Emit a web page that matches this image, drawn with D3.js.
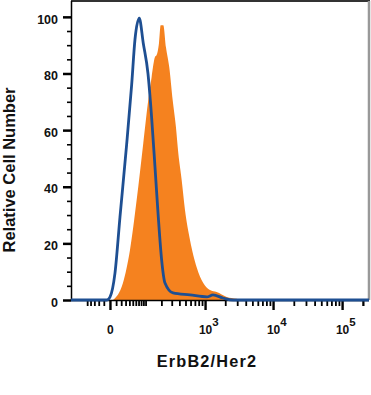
<!DOCTYPE html>
<html><head><meta charset="utf-8">
<script src="https://cdn.jsdelivr.net/npm/d3@7"></script>
<style>body{margin:0;background:#fff}svg{display:block}text{font-family:"Liberation Sans",Arial,sans-serif;font-weight:bold;fill:#111}</style>
</head><body><svg id="c" width="371" height="395"></svg>
<script>
// Isotype control (blue outline)
const isoX = [-117, -4.6, 0, 8, 17.4, 32.7, 46.6, 57.2, 72.7, 89.4, 112, 132, 153, 176, 202, 231, 315, 588, 1068, 1315, 1852, 2600, 245000];
const isoY = [0, 0, 1.0, 9.5, 29.3, 55, 76, 92, 99.5, 90.7, 80, 64.6, 47, 29.3, 14.1, 6, 2.5, 1.8, 1.1, 1.8, 0.7, 0, 0];
// ErbB2/Her2 stained (orange filled)
const stainX = [4.6, 23.8, 41.6, 63, 89.4, 113.5, 132, 153, 164, 181, 194, 216, 240, 273, 311, 352, 384, 435, 491, 588, 745, 939, 1185, 1492, 2099, 2947, 3296];
const stainY = [0, 6, 17.6, 35.3, 55.4, 70.6, 78.7, 85.8, 86.5, 90.7, 97, 97, 89.3, 82.2, 70.6, 61, 51.9, 42.4, 31.8, 21.2, 11.6, 6, 3.5, 2.8, 1.1, 0.4, 0];
const yTicks = [0, 20, 40, 60, 80, 100];
const xMajorTicks = [0, 1000, 10000, 100000];
const xMajorLabels = [["0", ""], ["10", "3"], ["10", "4"], ["10", "5"]];
const xTitle = "ErbB2/Her2";
const yTitle = "Relative Cell Number";

const svg = d3.select("#c");
const L = 71, R = 369, T = 1, B = 300;
const x = d3.scaleSymlog().constant(44).domain([-117, 245000]).range([L, R]);
const y = d3.scaleLinear().domain([0, 105.6]).range([B, T]);

// minor ticks
const xMinor = [];
[-50,-40,-30,-20,-10].forEach(v=>xMinor.push(v));
for (let v = 10; v < 100; v += 10) xMinor.push(v);
for (let d = 100; d <= 100000; d *= 10) for (let k = 1; k < 10; k++) { const v = d*k; if (!xMajorTicks.includes(v) && v < 245000) xMinor.push(v); }
xMinor.push(200000);

const stain = stainX.map((v,i)=>[v, stainY[i]]);
const iso = isoX.map((v,i)=>[v, isoY[i]]);

svg.append("path").datum(stain)
  .attr("fill", "#F5821F")
  .attr("d", d3.area().x(d=>x(d[0])).y0(y(0)).y1(d=>y(d[1])).curve(d3.curveMonotoneX));

// frame
svg.append("line").attr("x1", L).attr("x2", R+1).attr("y1", T).attr("y2", T).attr("stroke", "#333").attr("stroke-width", 2);
svg.append("line").attr("x1", R).attr("x2", R).attr("y1", T).attr("y2", B).attr("stroke", "#999").attr("stroke-width", 2.5);

// x axis
const gx = svg.append("g").attr("transform", `translate(0,${B})`);
gx.call(d3.axisBottom(x).tickValues(xMinor).tickSize(6).tickFormat(()=>"")).call(g=>g.select(".domain").remove());
gx.selectAll(".tick line").attr("stroke", "#000").attr("stroke-width", 1.8);
const gx2 = svg.append("g").attr("transform", `translate(0,${B})`);
gx2.call(d3.axisBottom(x).tickValues(xMajorTicks).tickSize(10).tickFormat(()=>""));
gx2.select(".domain").attr("stroke", "#000").attr("stroke-width", 1.5).attr("d", `M${L},0.5H${R}`);
gx2.selectAll(".tick line").attr("stroke", "#000").attr("stroke-width", 2.4);
gx2.selectAll(".tick").each(function(d, i){
  const t = d3.select(this).append("text").attr("y", 34).attr("text-anchor", "start").style("font-size", "12px");
  t.append("tspan").text(xMajorLabels[i][0]);
  if (xMajorLabels[i][1]) t.append("tspan").attr("dy", -8).style("font-size", "11.5px").text(xMajorLabels[i][1]);
  const w = this.querySelector("text tspan").getComputedTextLength();
  t.attr("x", -w/2);
});

// y axis
const gy = svg.append("g").attr("transform", `translate(${L},0)`);
gy.call(d3.axisLeft(y).tickValues(d3.range(5, 105, 5).filter(v=>v%20)).tickSize(4).tickFormat(()=>""));
gy.select(".domain").remove();
gy.selectAll(".tick line").attr("stroke", "#000").attr("stroke-width", 1.6);
const gy2 = svg.append("g").attr("transform", `translate(${L},0)`);
gy2.call(d3.axisLeft(y).tickValues(yTicks).tickSize(8).tickPadding(5));
gy2.select(".domain").attr("stroke", "#000").attr("stroke-width", 1.5).attr("d", `M0.5,${T}V${B+1}`);
gy2.selectAll(".tick line").attr("stroke", "#000").attr("stroke-width", 2.5);
gy2.selectAll(".tick text").style("font-size", "12.5px").attr("dy", "0.5em").style("fill", "#111");

// isotype line
svg.append("path").datum(iso)
  .attr("fill", "none").attr("stroke", "#1E4F92").attr("stroke-width", 2.8).attr("stroke-linejoin", "round")
  .attr("d", d3.line().x(d=>x(d[0])).y(d=>y(d[1])).curve(d3.curveMonotoneX));

// titles
svg.append("text").attr("x", 207).attr("y", 367).attr("text-anchor", "middle")
  .style("font-size", "16.3px").style("letter-spacing", "1.2px").text(xTitle);
svg.append("text").attr("transform", "translate(15,170) rotate(-90)").attr("text-anchor", "middle")
  .style("font-size", "16.5px").text(yTitle);
</script></body></html>
